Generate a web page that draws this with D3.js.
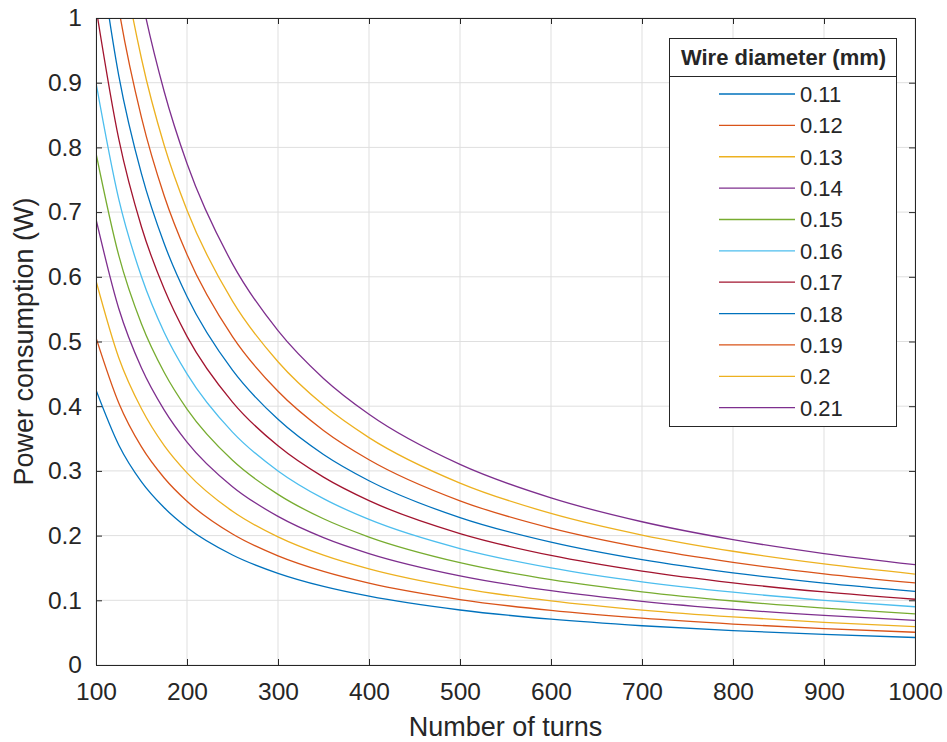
<!DOCTYPE html>
<html><head><meta charset="utf-8">
<script src="https://cdn.jsdelivr.net/npm/d3@7"></script>
<style>body{margin:0;background:#fff;} text{font-family:"Liberation Sans",Arial,sans-serif;fill:#262626;}</style>
</head><body>
<svg id="c" width="947" height="742"></svg>
<script>
const turns = [100, 125, 150, 175, 200, 250, 300, 350, 400, 500, 600, 700, 800, 900, 1000];
const diameters = ["0.11","0.12","0.13","0.14","0.15","0.16","0.17","0.18","0.19","0.2","0.21"];
const p011 = [0.425,0.340,0.283,0.243,0.2125,0.170,0.1417,0.1214,0.1063,0.085,0.0708,0.0607,0.0531,0.0472,0.0425];
const p012 = [0.506,0.405,0.337,0.289,0.253,0.2024,0.1687,0.1446,0.1265,0.1012,0.0843,0.0723,0.0633,0.0562,0.0506];
const p013 = [0.594,0.475,0.396,0.339,0.297,0.2376,0.198,0.1697,0.1485,0.1188,0.099,0.0849,0.0743,0.066,0.0594];
const p014 = [0.689,0.551,0.459,0.394,0.3445,0.2756,0.2297,0.1969,0.1723,0.1378,0.1148,0.0984,0.0861,0.0766,0.0689];
const p015 = [0.791,0.633,0.527,0.452,0.3955,0.3164,0.2637,0.226,0.1978,0.1582,0.1318,0.113,0.0989,0.0879,0.0791];
const p016 = [0.900,0.720,0.600,0.514,0.450,0.360,0.300,0.2571,0.225,0.180,0.150,0.1286,0.1125,0.100,0.090];
const p017 = [1.016,0.813,0.677,0.581,0.508,0.4064,0.3387,0.2903,0.254,0.2032,0.1693,0.1451,0.127,0.1129,0.1016];
const p018 = [1.139,0.911,0.759,0.651,0.5695,0.4556,0.3797,0.3254,0.2848,0.2278,0.1898,0.1627,0.1424,0.1266,0.1139];
const p019 = [1.269,1.015,0.846,0.725,0.6345,0.5076,0.423,0.3626,0.3173,0.2538,0.2115,0.1813,0.1586,0.141,0.1269];
const p020 = [1.406,1.125,0.937,0.803,0.703,0.5624,0.4687,0.4017,0.3515,0.2812,0.2343,0.2009,0.1758,0.1562,0.1406];
const p021 = [1.550,1.240,1.033,0.886,0.775,0.620,0.5167,0.4429,0.3875,0.310,0.2583,0.2214,0.1938,0.1722,0.155];
const seriesValues = [p011,p012,p013,p014,p015,p016,p017,p018,p019,p020,p021];
const xTicks = [100,200,300,400,500,600,700,800,900,1000];
const yTicks = [0,0.1,0.2,0.3,0.4,0.5,0.6,0.7,0.8,0.9,1];
const colors = ["#0072BD","#D95319","#EDB120","#7E2F8E","#77AC30","#4DBEEE","#A2142F","#0072BD","#D95319","#EDB120","#7E2F8E"];

const svg = d3.select("#c");
const L = 96, R = 915, T = 18, B = 665;
const x = d3.scaleLinear().domain([100,1000]).range([L,R]);
const y = d3.scaleLinear().domain([0,1]).range([B,T]);
const axisColor = "#262626";

// grid
const g = svg.append("g");
g.selectAll(".gx").data(xTicks).join("line")
  .attr("x1",d=>x(d)).attr("x2",d=>x(d)).attr("y1",T).attr("y2",B)
  .attr("stroke","#dfdfdf").attr("stroke-width",1);
g.selectAll(".gy").data(yTicks).join("line")
  .attr("y1",d=>y(d)).attr("y2",d=>y(d)).attr("x1",L).attr("x2",R)
  .attr("stroke","#dfdfdf").attr("stroke-width",1);

// clip
svg.append("clipPath").attr("id","clip").append("rect")
  .attr("x",L).attr("y",T).attr("width",R-L).attr("height",B-T);

const line = d3.line().x(d=>x(d[0])).y(d=>y(d[1])).curve(d3.curveMonotoneX);
svg.append("g").attr("clip-path","url(#clip)")
  .selectAll("path").data(seriesValues).join("path")
  .attr("d",vals=>line(vals.map((v,i)=>[turns[i],v])))
  .attr("fill","none").attr("stroke",(d,i)=>colors[i]).attr("stroke-width",1.3);

// axes
const tickLen = 6;
const fmtX = d=>String(d);
const fmtY = d=>d===0?"0":(d===1?"1":d3.format(".1f")(d));
const styleText = s=>s.selectAll("text").attr("font-size",24.5).attr("fill",axisColor).attr("font-family","Liberation Sans, Arial, sans-serif");
const ax = svg.append("g");
ax.append("g").attr("transform",`translate(0,${B})`)
  .call(d3.axisBottom(x).tickValues(xTicks).tickFormat(fmtX).tickSizeInner(-tickLen).tickSizeOuter(0).tickPadding(18))
  .call(s=>{s.select(".domain").attr("stroke",axisColor);s.selectAll("line").attr("stroke",axisColor);styleText(s);});
ax.append("g").attr("transform",`translate(0,${T})`)
  .call(d3.axisTop(x).tickValues(xTicks).tickFormat("").tickSizeInner(-tickLen).tickSizeOuter(0))
  .call(s=>{s.select(".domain").attr("stroke",axisColor);s.selectAll("line").attr("stroke",axisColor);});
ax.append("g").attr("transform",`translate(${L},0)`)
  .call(d3.axisLeft(y).tickValues(yTicks).tickFormat(fmtY).tickSizeInner(-tickLen).tickSizeOuter(0).tickPadding(14))
  .call(s=>{s.select(".domain").attr("stroke",axisColor);s.selectAll("line").attr("stroke",axisColor);styleText(s);});
ax.append("g").attr("transform",`translate(${R},0)`)
  .call(d3.axisRight(y).tickValues(yTicks).tickFormat("").tickSizeInner(-tickLen).tickSizeOuter(0))
  .call(s=>{s.select(".domain").attr("stroke",axisColor);s.selectAll("line").attr("stroke",axisColor);});

// axis labels
svg.append("text").attr("x",(L+R)/2).attr("y",735.5).attr("text-anchor","middle")
  .attr("font-size",27).text("Number of turns");
svg.append("text").attr("transform",`translate(33,${(T+B)/2}) rotate(-90)`).attr("text-anchor","middle")
  .attr("font-size",27).text("Power consumption (W)");

// legend
const lg = svg.append("g");
const lx0 = 669, lx1 = 896, ly0 = 38, lsep = 76, ly1 = 426;
lg.append("rect").attr("x",lx0+0.5).attr("y",ly0+0.5).attr("width",lx1-lx0).attr("height",ly1-ly0)
  .attr("fill","#fff").attr("stroke",axisColor).attr("stroke-width",1);
lg.append("line").attr("x1",lx0).attr("x2",lx1+1).attr("y1",lsep+0.5).attr("y2",lsep+0.5).attr("stroke",axisColor);
lg.append("text").attr("x",(lx0+lx1)/2+1).attr("y",65).attr("text-anchor","middle")
  .attr("font-size",22).attr("font-weight","bold").attr("fill","#000").text("Wire diameter (mm)");
const ent = lg.selectAll(".ent").data(diameters).join("g")
  .attr("transform",(d,i)=>`translate(0,${94 + i*31.37})`);
ent.append("line").attr("x1",719).attr("x2",795).attr("y1",0).attr("y2",0)
  .attr("stroke",(d,i)=>colors[i]).attr("stroke-width",1.3);
ent.append("text").attr("x",800).attr("y",8).attr("font-size",22).text(d=>d);
</script>
</body></html>
